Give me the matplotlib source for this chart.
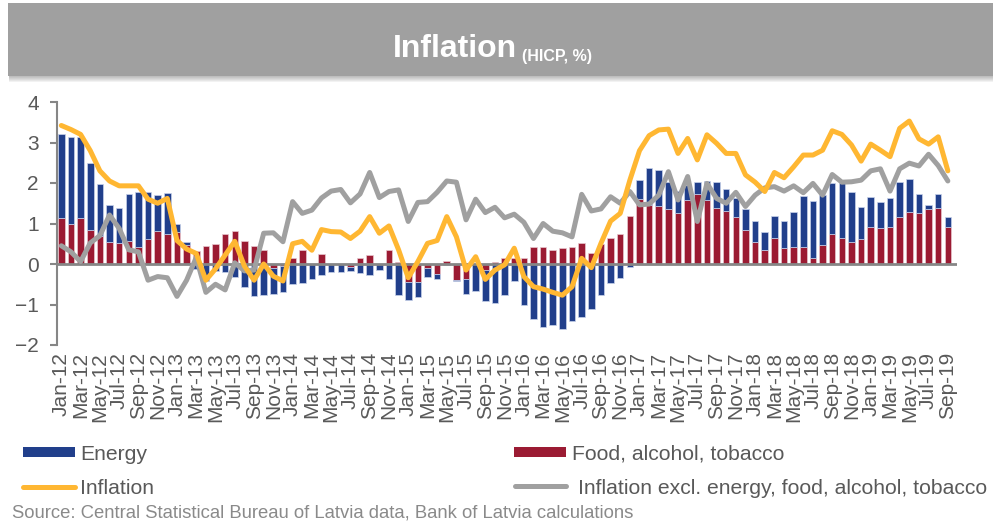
import numpy as np
import matplotlib.pyplot as plt
from matplotlib.patches import Rectangle
from matplotlib.lines import Line2D
from matplotlib import font_manager

plt.rcParams['font.family'] = ['Liberation Sans', 'DejaVu Sans']

# monthly data, Jan-12 .. Sep-19 (percentage points / %)
food = [1.14, 1.00, 1.13, 0.85, 0.70, 0.55, 0.53, 0.58, 0.43, 0.61, 0.81, 0.73,
        0.80, 0.47, 0.33, 0.44, 0.49, 0.74, 0.82, 0.58, 0.44, 0.34, -0.10, -0.05,
        0.15, 0.34, 0.00, 0.24, 0.00, 0.00, -0.08, 0.14, 0.21, 0.00, 0.35, 0.06,
        -0.45, -0.44, -0.10, -0.25, 0.07, -0.40, -0.38, 0.00, -0.15, 0.04, 0.16, 0.16,
        0.14, 0.41, 0.41, 0.35, 0.39, 0.42, 0.51, 0.28, 0.49, 0.63, 0.73, 1.19,
        1.60, 1.46, 1.42, 1.37, 1.25, 1.58, 1.72, 1.58, 1.39, 1.32, 1.17, 0.85,
        0.55, 0.34, 0.65, 0.39, 0.43, 0.43, 0.14, 0.47, 0.73, 0.65, 0.55, 0.61,
        0.92, 0.88, 0.92, 1.15, 1.28, 1.27, 1.35, 1.39, 0.91]
energy = [2.06, 2.14, 2.01, 1.64, 1.27, 0.91, 0.86, 1.14, 1.34, 1.16, 0.89, 1.03,
          0.20, 0.07, -0.12, -0.42, -0.17, -0.19, -0.31, -0.58, -0.79, -0.77, -0.64, -0.65,
          -0.50, -0.48, -0.38, -0.27, -0.19, -0.20, -0.10, -0.23, -0.26, -0.15, -0.36, -0.77,
          -0.44, -0.37, -0.21, -0.12, -0.02, -0.02, -0.36, -0.67, -0.77, -0.97, -0.77, -0.42,
          -1.01, -1.36, -1.56, -1.51, -1.61, -1.40, -1.30, -1.11, -0.77, -0.48, -0.34, -0.07,
          0.47, 0.90, 0.90, 0.66, 0.55, 0.37, 0.31, 0.47, 0.64, 0.54, 0.47, 0.51,
          0.52, 0.46, 0.54, 0.68, 0.85, 1.26, 1.42, 1.23, 1.28, 1.34, 1.24, 0.79,
          0.74, 0.64, 0.72, 0.87, 0.82, 0.45, 0.11, 0.35, 0.25]
inflation = [3.42, 3.32, 3.20, 2.80, 2.30, 2.05, 1.93, 1.93, 1.93, 1.60, 1.50, 1.62,
             0.58, 0.37, 0.26, -0.40, -0.12, 0.22, 0.56, -0.05, -0.40, 0.00, -0.30, -0.42,
             0.50, 0.56, 0.34, 0.85, 0.80, 0.79, 0.63, 0.81, 1.17, 0.76, 0.94, 0.35,
             -0.34, 0.06, 0.51, 0.58, 1.17, 0.67, -0.15, 0.18, -0.38, -0.15, -0.02, 0.39,
             -0.31, -0.56, -0.62, -0.70, -0.77, -0.56, 0.14, -0.09, 0.51, 1.06, 1.25, 2.07,
             2.80, 3.17, 3.31, 3.33, 2.73, 3.10, 2.57, 3.19, 2.98, 2.73, 2.73, 2.20,
             2.02, 1.79, 2.26, 2.13, 2.40, 2.69, 2.69, 2.81, 3.29, 3.20, 2.94, 2.54,
             2.96, 2.81, 2.65, 3.35, 3.53, 3.09, 2.96, 3.14, 2.30]
core = [0.45, 0.30, 0.06, 0.52, 0.70, 1.21, 0.88, 0.35, 0.30, -0.40, -0.31, -0.34,
        -0.80, -0.40, 0.16, -0.70, -0.50, -0.64, 0.03, -0.17, -0.15, 0.76, 0.77, 0.55,
        1.54, 1.25, 1.33, 1.63, 1.80, 1.84, 1.51, 1.73, 2.26, 1.64, 1.79, 1.83,
        1.05, 1.52, 1.54, 1.77, 2.05, 2.02, 1.09, 1.60, 1.27, 1.40, 1.14, 1.23,
        1.03, 0.63, 1.00, 0.81, 0.77, 0.67, 1.72, 1.31, 1.36, 1.66, 1.50, 1.79,
        1.46, 1.48, 1.70, 2.28, 1.58, 2.16, 1.05, 1.99, 1.62, 1.50, 1.77, 1.42,
        1.70, 1.88, 1.91, 1.80, 1.93, 1.76, 1.99, 1.70, 2.21, 2.02, 2.03, 2.07,
        2.30, 2.35, 1.80, 2.35, 2.49, 2.42, 2.71, 2.43, 2.05]

months = ['Jan', 'Feb', 'Mar', 'Apr', 'May', 'Jun', 'Jul', 'Aug', 'Sep', 'Oct', 'Nov', 'Dec']
years = [12, 13, 14, 15, 16, 17, 18, 19]
labels = [f'{m}-{y}' for y in years for m in months][:len(food)]

BLUE = '#213F8B'
RED = '#9B1B33'
YELLOW = '#FFB732'
GRAY = '#A0A0A0'
AXIS = '#868686'
TEXT = '#595959'

# condensed face for the banner title if available
installed = {f.name for f in font_manager.fontManager.ttflist}
narrow = 'Liberation Sans Narrow' in installed
title_family = ['Liberation Sans Narrow'] if narrow else ['Liberation Sans']
title_size = 27 if narrow else 23

W, H = 999, 526
def fx(x): return x / W
def fy(y): return 1 - y / H

fig = plt.figure(figsize=(W / 100, H / 100), dpi=100)

# title banner with a soft shadow
for k in range(7):
    fig.add_artist(Rectangle((fx(9), fy(76 + k)), fx(984), 20 / H,
                             transform=fig.transFigure, color='#505050',
                             alpha=0.07, lw=0))
fig.add_artist(Rectangle((fx(8), fy(76)), fx(985), 73 / H,
                         transform=fig.transFigure, color='#A0A0A0', lw=0))
fig.text(fx(517), fy(57), 'Inflation', ha='right', va='baseline',
         color='white', fontsize=title_size, fontweight='bold',
         family=title_family)
fig.text(fx(522), fy(61), '(HICP, %)', ha='left', va='baseline',
         color='white', fontsize=title_size * 0.5, fontweight='bold',
         family=title_family)

ax = fig.add_axes([fx(57), fy(345), (957 - 57) / W, (345 - 102) / H])
x = np.arange(len(food))
food_a = np.array(food)
energy_a = np.array(energy)
e_bottom = np.where(np.sign(energy_a) == np.sign(food_a), food_a, 0)

ax.bar(x, food_a, width=0.68, color=RED, edgecolor='#e8c8d0', lw=0.5, zorder=2)
ax.bar(x, energy_a, bottom=e_bottom, width=0.68, color=BLUE,
       edgecolor='#c8d2ea', lw=0.5, zorder=2)
ax.axhline(0, color=AXIS, lw=2, zorder=2.5)
ax.plot(x, core, color=GRAY, lw=3.6, solid_joinstyle='round',
        solid_capstyle='round', zorder=3)
ax.plot(x, inflation, color=YELLOW, lw=3.6, solid_joinstyle='round',
        solid_capstyle='round', zorder=4)

ax.set_xlim(-0.45, 92.95)
ax.set_ylim(-2, 4)
ax.set_yticks(range(-2, 5))
ax.set_xticks(x[::2])
ax.set_xticklabels(labels[::2], rotation=90, va='top', ha='center')
ax.tick_params(axis='x', length=0, pad=5, labelsize=15, labelcolor=TEXT)
ax.tick_params(axis='y', length=5, width=1.5, color=AXIS, pad=8,
               labelsize=15, labelcolor=TEXT)
for s in ['top', 'right', 'bottom']:
    ax.spines[s].set_visible(False)
ax.spines['left'].set_color(AXIS)
ax.spines['left'].set_linewidth(1.5)

# legend
fig.add_artist(Rectangle((fx(23), fy(457)), 52 / W, 10 / H,
                         transform=fig.transFigure, color=BLUE, lw=0))
fig.text(fx(80), fy(460), 'Energy', fontsize=15.2, color=TEXT, va='baseline')
fig.add_artist(Rectangle((fx(514), fy(457)), 52 / W, 10 / H,
                         transform=fig.transFigure, color=RED, lw=0))
fig.text(fx(572), fy(459), 'Food, alcohol, tobacco', fontsize=15.2,
         color=TEXT, va='baseline')
fig.add_artist(Line2D([fx(23), fx(75)], [fy(487), fy(487)],
                      transform=fig.transFigure, color=YELLOW, lw=3.6,
                      solid_capstyle='round'))
fig.text(fx(80), fy(494), 'Inflation', fontsize=15.2, color=TEXT, va='baseline')
fig.add_artist(Line2D([fx(515), fx(566)], [fy(486), fy(486)],
                      transform=fig.transFigure, color=GRAY, lw=3.6,
                      solid_capstyle='round'))
fig.text(fx(578), fy(494), 'Inflation excl. energy, food, alcohol, tobacco',
         fontsize=15.2, color=TEXT, va='baseline')

fig.text(fx(12), fy(517), 'Source: Central Statistical Bureau of Latvia data, '
         'Bank of Latvia calculations', fontsize=13.3, color='#8a8a8a',
         va='baseline')

fig.savefig('out.png', dpi=100)
